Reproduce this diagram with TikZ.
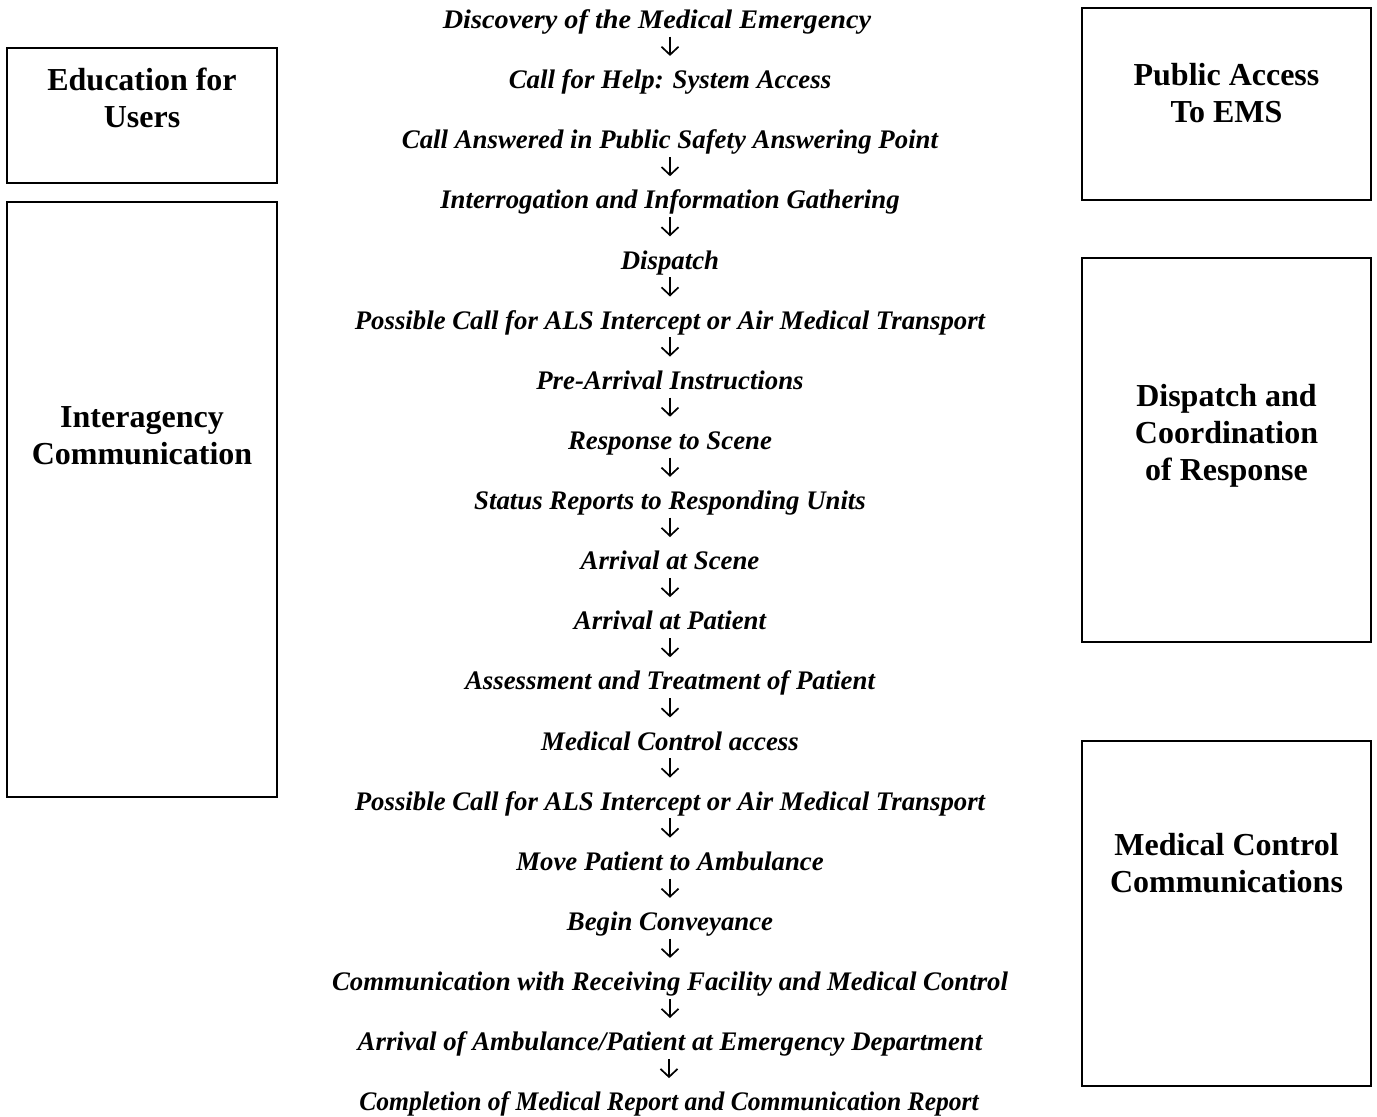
\documentclass[tikz,border=0pt]{standalone}
\usepackage{fontspec}
\setmainfont{Liberation Serif}
\usetikzlibrary{arrows.meta}

\begin{document}
\begin{tikzpicture}[x=1pt,y=-1pt,
  stagetext/.style={font=\bfseries\itshape\fontsize{26.8}{30}\selectfont,inner sep=0pt,text height=12pt,text depth=6pt,anchor=base},
  sidebox/.style={draw,line width=1.8pt},
  sidelabel/.style={font=\bfseries\fontsize{32}{37}\selectfont,align=center,inner sep=0pt},
  flowarrow/.style={-{Straight Barb[length=8pt,width=17pt]},line width=1.7pt,shorten <=2pt,shorten >=20.5pt}]
  \useasboundingbox (0,0) rectangle (1377,1117);
  \node[stagetext] (s1) at (657,28.5) {\scalebox{1.054}[1]{Discovery of the Medical Emergency}};
  \node[stagetext] (s2) at (670,88.6) {Call for Help: System Access};
  \node[stagetext] (s3) at (670,148.8) {Call Answered in Public Safety Answering Point};
  \node[stagetext] (s4) at (670,208.9) {Interrogation and Information Gathering};
  \node[stagetext] (s5) at (670,269.0) {Dispatch};
  \node[stagetext] (s6) at (670,329.2) {Possible Call for ALS Intercept or Air Medical Transport};
  \node[stagetext] (s7) at (670,389.3) {Pre-Arrival Instructions};
  \node[stagetext] (s8) at (670,449.4) {Response to Scene};
  \node[stagetext] (s9) at (670,509.5) {Status Reports to Responding Units};
  \node[stagetext] (s10) at (670,569.7) {Arrival at Scene};
  \node[stagetext] (s11) at (670,629.8) {Arrival at Patient};
  \node[stagetext] (s12) at (670,689.9) {Assessment and Treatment of Patient};
  \node[stagetext] (s13) at (670,750.1) {Medical Control access};
  \node[stagetext] (s14) at (670,810.2) {Possible Call for ALS Intercept or Air Medical Transport};
  \node[stagetext] (s15) at (670,870.3) {Move Patient to Ambulance};
  \node[stagetext] (s16) at (670,930.5) {Begin Conveyance};
  \node[stagetext] (s17) at (670,990.6) {Communication with Receiving Facility and Medical Control};
  \node[stagetext] (s18) at (670,1050.7) {Arrival of Ambulance/Patient at Emergency Department};
  \node[stagetext] (s19) at (669,1110.8) {\scalebox{0.954}[1]{Completion of Medical Report and Communication Report}};
  \foreach \i [evaluate=\i as \j using int(\i+1)] in {1,3,4,5,6,7,8,9,10,11,12,13,14,15,16,17,18}
    \draw[flowarrow] (s\i.south -| s\j.north) -- (s\j.north);

  \draw[sidebox] (7,48) rectangle (277,183);
  \node[sidelabel] (edu) at (142,97.5) {Education for\\Users};
  \draw[sidebox] (7,202) rectangle (277,797);
  \node[sidelabel] (inter) at (142,435.5) {Interagency\\Communication};
  \draw[sidebox] (1082,8) rectangle (1371,200);
  \node[sidelabel] (public) at (1226.5,93.5) {Public Access\\To EMS};
  \draw[sidebox] (1082,258) rectangle (1371,642);
  \node[sidelabel] (dispatch) at (1226.5,436) {Dispatch and\\Coordination\\of Response};
  \draw[sidebox] (1082,741) rectangle (1371,1086);
  \node[sidelabel] (medctl) at (1226.5,863) {Medical Control\\Communications};
\end{tikzpicture}
\end{document}
